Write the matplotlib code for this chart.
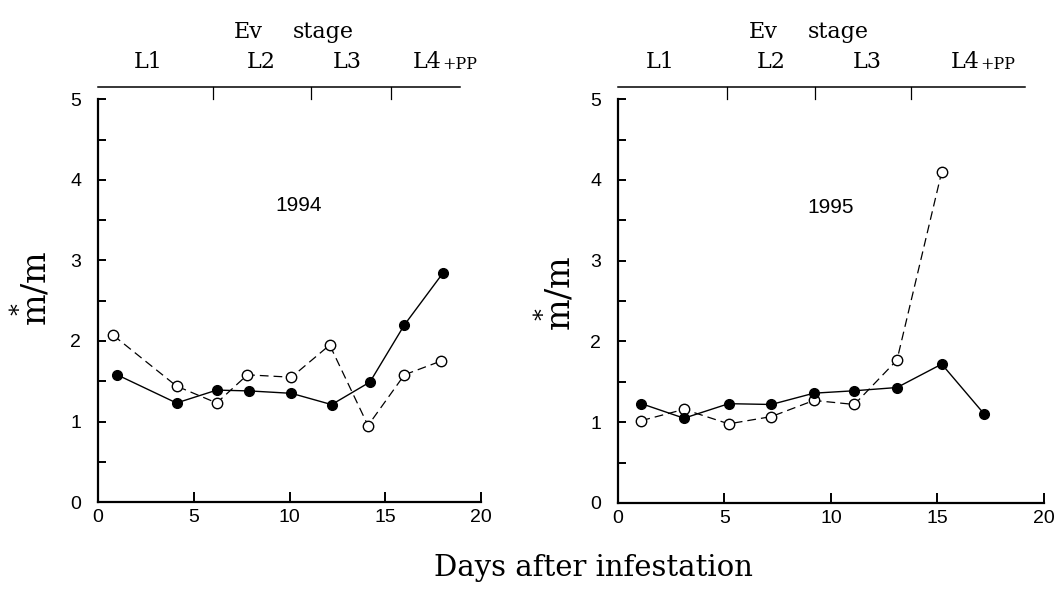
import matplotlib
matplotlib.use("Agg")
import matplotlib.pyplot as plt
from matplotlib.ticker import MultipleLocator

plt.rcParams['mathtext.fontset'] = 'dejavuserif'

# 1994 panel
days_94_closed = [1.0, 4.1, 6.2, 7.9, 10.1, 12.2, 14.2, 16.0, 18.0]
mm_94_closed = [1.58, 1.23, 1.39, 1.38, 1.35, 1.21, 1.49, 2.20, 2.84]
days_94_open = [0.8, 4.1, 6.2, 7.8, 10.1, 12.1, 14.1, 16.0, 17.9]
mm_94_open = [2.07, 1.44, 1.23, 1.58, 1.55, 1.95, 0.95, 1.58, 1.75]

# 1995 panel
days_95_closed = [1.1, 3.1, 5.2, 7.2, 9.2, 11.1, 13.1, 15.2, 17.2]
mm_95_closed = [1.23, 1.05, 1.23, 1.22, 1.36, 1.39, 1.43, 1.72, 1.10]
days_95_open = [1.1, 3.1, 5.2, 7.2, 9.2, 11.1, 13.1, 15.2]
mm_95_open = [1.02, 1.16, 0.98, 1.07, 1.27, 1.22, 1.77, 4.10]

stage_labels = ["L1", "L2", "L3", "L4"]
stage_ticks_94 = [6.0, 11.1, 15.3]
stage_pos_94 = [2.6, 8.5, 13.0, 17.2]
stage_ticks_95 = [5.1, 9.25, 13.75]
stage_pos_95 = [2.0, 7.2, 11.7, 16.3]

years = ["1994", "1995"]

serif = "DejaVu Serif"
sans = "Liberation Sans"

fig = plt.figure(figsize=(10.56, 6.08), dpi=100)
ax1 = fig.add_axes([0.0928, 0.1743, 0.3627, 0.682])
ax2 = fig.add_axes([0.5852, 0.1727, 0.4034, 0.684])


def draw_panel(ax, dc, yc, do, yo, ticks, pos, year, yx, yy, top_end):
    ax.plot(dc, yc, '-', color='black', lw=1.0, marker='o', ms=7,
            mfc='black', mec='black', zorder=3)
    ax.plot(do, yo, '--', color='black', lw=0.9, dashes=(7, 4), marker='o',
            ms=7.5, mfc='white', mec='black', mew=1.0, zorder=2)

    ax.set_xlim(0, 20)
    ax.set_ylim(0, 5.15)
    ax.spines['right'].set_visible(False)
    ax.spines['left'].set_bounds(0, 5)
    ax.spines['left'].set_linewidth(1.6)
    ax.spines['bottom'].set_linewidth(1.6)
    ax.spines['top'].set_bounds(0, top_end)
    ax.spines['top'].set_linewidth(1.1)

    ax.xaxis.set_major_locator(MultipleLocator(5))
    ax.yaxis.set_major_locator(MultipleLocator(1))
    ax.yaxis.set_minor_locator(MultipleLocator(0.5))
    ax.tick_params(axis='x', direction='in', length=7, width=1.4, pad=5,
                   labelsize=14, top=False)
    ax.tick_params(axis='y', direction='in', length=6, width=1.4, pad=12,
                   labelsize=14)
    ax.tick_params(axis='y', which='minor', direction='in', length=6, width=1.4)
    for lab in ax.get_xticklabels() + ax.get_yticklabels():
        lab.set_fontfamily(sans)

    # stage ticks on the top line
    for t in ticks:
        ax.plot([t, t], [5.15, 5.0], color='black', lw=0.9, clip_on=False)
    for name, p in zip(stage_labels, pos):
        ax.text(p, 1.035, name, transform=ax.get_xaxis_transform(),
                ha='center', va='bottom', fontsize=16, family=serif)
    ax.annotate("+PP", xy=(pos[-1], 1.035), xycoords=ax.get_xaxis_transform(),
                xytext=(11, 0), textcoords='offset points',
                ha='left', va='bottom', fontsize=11.5, family=serif)

    ax.text(yx, yy, year, ha='center', va='center', fontsize=15, family=sans)


draw_panel(ax1, days_94_closed, mm_94_closed, days_94_open, mm_94_open,
           stage_ticks_94, stage_pos_94, years[0], 10.5, 3.68, 18.9)
draw_panel(ax2, days_95_closed, mm_95_closed, days_95_open, mm_95_open,
           stage_ticks_95, stage_pos_95, years[1], 10.0, 3.66, 19.1)

# "Ev  stage" headers
for x_ev, x_st in [(248, 323), (763, 838)]:
    fig.text(x_ev / 1056, 1 - 32 / 608, "Ev", ha='center', va='center',
             fontsize=16, family=serif)
    fig.text(x_st / 1056, 1 - 32 / 608, "stage", ha='center', va='center',
             fontsize=16, family=serif)

# y labels: m* / m, asterisk above the first m
ylab = r'$\overset{\ast}{\mathrm{m}}/\mathrm{m}$'
for x_m, y_m in [(32, 288), (556, 293)]:
    fig.text(x_m / 1056, 1 - y_m / 608, ylab, rotation=90, ha='center',
             va='center', fontsize=24)

fig.text(593 / 1056, 1 - 568 / 608, "Days after infestation", ha='center',
         va='center', fontsize=21, family=serif)

fig.savefig("out.png", dpi=100)
